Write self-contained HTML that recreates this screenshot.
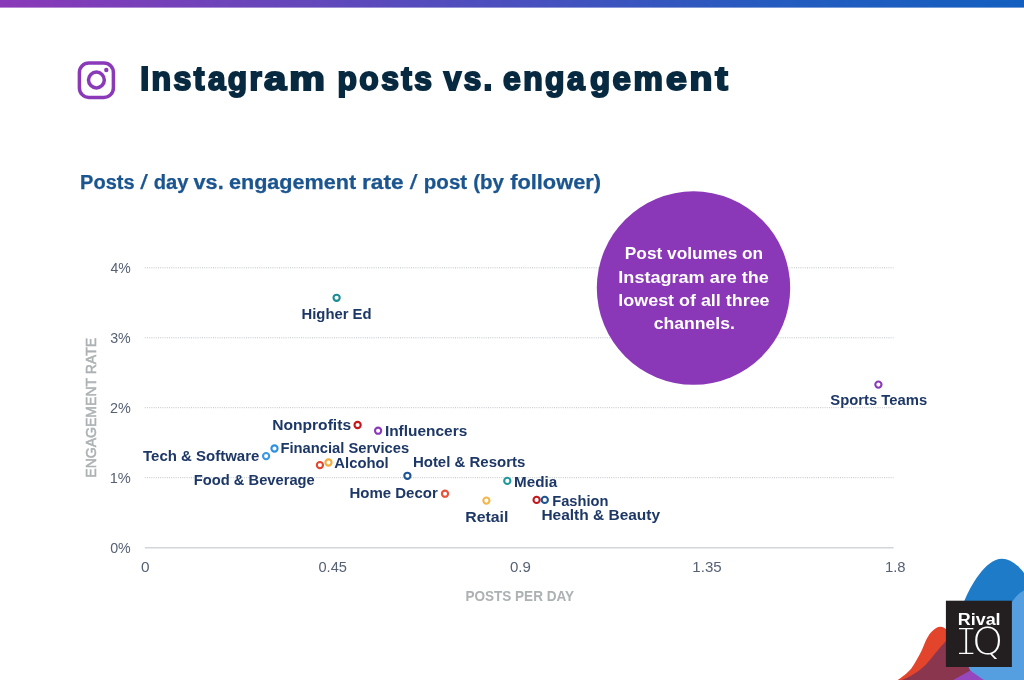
<!DOCTYPE html>
<html lang="en">
<head>
<meta charset="utf-8">
<title>Instagram posts vs. engagement</title>
<style>
html,body{margin:0;padding:0;background:#fff;}
body{width:1024px;height:680px;overflow:hidden;font-family:"Liberation Sans",sans-serif;}
svg{display:block;}
text{font-family:"Liberation Sans",sans-serif;}
.title{font-weight:700;fill:#082a41;stroke:#082a41;stroke-width:2.0px;}
.sub{font-weight:700;fill:#1b5590;stroke:#1b5590;stroke-width:0.25px;}
.lbl{font-weight:700;fill:#1d3766;}
.tick{fill:#566174;}
.axis{font-weight:700;fill:#acb1b3;}
.note{font-weight:700;fill:#ffffff;}
.pt{fill:#ffffff;stroke-width:2.1;}
</style>
</head>
<body>
<svg width="1024" height="680" viewBox="0 0 1024 680">
<defs>
<linearGradient id="topbar" x1="0" y1="0" x2="1" y2="0">
<stop offset="0" stop-color="#8a39b8"/>
<stop offset="0.25" stop-color="#6945ba"/>
<stop offset="0.5" stop-color="#4a4fbe"/>
<stop offset="0.75" stop-color="#255bbf"/>
<stop offset="1" stop-color="#135fbf"/>
</linearGradient>
</defs>
<rect x="0" y="0" width="1024" height="680" fill="#ffffff"/>
<rect x="0" y="0" width="1024" height="7.6" fill="url(#topbar)"/>
<g id="corner">
<path d="M975 675 L969 667.3 L962 620 L964.4 600.7 C970 587 985 559 1002 558.8 C1010 558.8 1018 565 1024 573 L1024 680 Z" fill="#1e7bc8"/>
<path d="M897.7 680 C905 675 909 671 911.3 668.4 C915 663 917 659 919.5 654.7 C922 650 923.5 646 925 642.4 C928 636 930 633 931.9 631.4 C935 628 938 626.5 940.7 626.7 C943 627 945 628 947 630 L947 680 Z" fill="#e3442c"/>
<path d="M950 680 L953.2 678 L970.3 668.4 L988 680 Z" fill="#9747bd"/>
<path d="M901.8 680 C910 677 917 673 925 665.6 C932 658 938 649 946 641 L970 641 L970 667 L970.3 670.4 L953.2 680 Z" fill="#89364e"/>
<path d="M1024 590.6 C1019 593 1014 598 1011 604 L1000 640 L968.5 667 L970.3 670.4 C973 672.5 979 676.5 984 680 L1024 680 Z" fill="#559fe0"/>
<rect x="945.9" y="600.7" width="66.0" height="66.3" fill="#231f20"/>
<text x="957.75" y="624.6" font-weight="700" font-size="16.0" fill="#ffffff" textLength="42.85" lengthAdjust="spacingAndGlyphs">Rival</text>
<text fill="#ffffff"><tspan x="954.0" y="654.85" font-size="43.1" stroke="#231f20" stroke-width="2.1" textLength="24.42" lengthAdjust="spacingAndGlyphs" style="font-family:'Liberation Mono',monospace">I</tspan><tspan x="972.05" y="653.9" font-size="36.8" font-weight="200" textLength="31.2" lengthAdjust="spacingAndGlyphs" style="font-family:'DejaVu Sans',sans-serif">Q</tspan></text>
</g>
<g id="ig" fill="none" stroke="#8a3ab9" stroke-width="3.5">
<rect x="79.4" y="63.0" width="34.0" height="34.4" rx="9.5" ry="9.5"/>
<circle cx="96.4" cy="80.0" r="7.9"/>
<circle cx="106.3" cy="70.0" r="2.2" fill="#8a3ab9" stroke="none"/>
</g>
<text class="title" y="89.5" font-size="33.0"><tspan x="140.25" letter-spacing="2.5" textLength="66.64" lengthAdjust="spacingAndGlyphs">Inst</tspan><tspan x="207.9" letter-spacing="2.5" textLength="56.31" lengthAdjust="spacingAndGlyphs">agr</tspan><tspan x="263.9" letter-spacing="2.5" textLength="64.0" lengthAdjust="spacingAndGlyphs">am</tspan> <tspan x="337.55" letter-spacing="2.5" textLength="96.75" lengthAdjust="spacingAndGlyphs">posts</tspan> <tspan x="443.75" letter-spacing="2.5" textLength="50.91" lengthAdjust="spacingAndGlyphs">vs.</tspan> <tspan x="503.05" letter-spacing="2.5" textLength="84.03" lengthAdjust="spacingAndGlyphs">enga</tspan><tspan x="589.95" letter-spacing="2.5" textLength="75.34" lengthAdjust="spacingAndGlyphs">gem</tspan><tspan x="665.95" letter-spacing="2.5" textLength="64.69" lengthAdjust="spacingAndGlyphs">ent</tspan></text>
<text class="sub" y="188.5" font-size="19.4"><tspan x="80.1" textLength="54.48" lengthAdjust="spacingAndGlyphs">Posts</tspan> <tspan x="140.15" font-weight="400" textLength="7.61" lengthAdjust="spacingAndGlyphs">/</tspan> <tspan x="153.75" textLength="34.77" lengthAdjust="spacingAndGlyphs">day</tspan> <tspan x="193.55" textLength="30.11" lengthAdjust="spacingAndGlyphs">vs.</tspan> <tspan x="228.95" textLength="127.26" lengthAdjust="spacingAndGlyphs">engagement</tspan> <tspan x="361.95" textLength="41.63" lengthAdjust="spacingAndGlyphs">rate</tspan> <tspan x="409.85" font-weight="400" textLength="7.67" lengthAdjust="spacingAndGlyphs">/</tspan> <tspan x="423.85" textLength="43.29" lengthAdjust="spacingAndGlyphs">post</tspan> <tspan x="473.2" textLength="30.73" lengthAdjust="spacingAndGlyphs">(by</tspan> <tspan x="510.15" textLength="90.92" lengthAdjust="spacingAndGlyphs">follower)</tspan></text>
<line x1="144.8" y1="267.8" x2="893.6" y2="267.8" stroke="#bfc3c7" stroke-width="1" stroke-dasharray="1 1.2"/>
<line x1="144.8" y1="337.8" x2="893.6" y2="337.8" stroke="#bfc3c7" stroke-width="1" stroke-dasharray="1 1.2"/>
<line x1="144.8" y1="407.7" x2="893.6" y2="407.7" stroke="#bfc3c7" stroke-width="1" stroke-dasharray="1 1.2"/>
<line x1="144.8" y1="477.7" x2="893.6" y2="477.7" stroke="#bfc3c7" stroke-width="1" stroke-dasharray="1 1.2"/>
<line x1="144.8" y1="547.8" x2="893.6" y2="547.8" stroke="#d3d5d7" stroke-width="1.5"/>
<text class="tick" x="110.45" y="273.4" font-size="15.0" textLength="20.32" lengthAdjust="spacingAndGlyphs">4%</text>
<text class="tick" x="110.2" y="343.4" font-size="15.0" textLength="20.59" lengthAdjust="spacingAndGlyphs">3%</text>
<text class="tick" x="109.95" y="413.4" font-size="15.0" textLength="20.87" lengthAdjust="spacingAndGlyphs">2%</text>
<text class="tick" x="109.7" y="483.4" font-size="15.0" textLength="21.16" lengthAdjust="spacingAndGlyphs">1%</text>
<text class="tick" x="110.2" y="553.4" font-size="15.0" textLength="20.59" lengthAdjust="spacingAndGlyphs">0%</text>
<text class="tick" x="141.1" y="572.0" font-size="15.0" textLength="8.54" lengthAdjust="spacingAndGlyphs">0</text>
<text class="tick" x="318.5" y="572.0" font-size="15.0" textLength="28.44" lengthAdjust="spacingAndGlyphs">0.45</text>
<text class="tick" x="509.9" y="572.0" font-size="15.0" textLength="20.87" lengthAdjust="spacingAndGlyphs">0.9</text>
<text class="tick" x="692.35" y="572.0" font-size="15.0" textLength="29.32" lengthAdjust="spacingAndGlyphs">1.35</text>
<text class="tick" x="884.95" y="572.0" font-size="15.0" textLength="20.6" lengthAdjust="spacingAndGlyphs">1.8</text>
<text class="axis" x="465.4" y="601.3" font-size="14.6" textLength="108.67" lengthAdjust="spacingAndGlyphs">POSTS PER DAY</text>
<text class="axis" style="font-weight:400;stroke:#acb1b3;stroke-width:0.55px" transform="translate(96.0 476.7) rotate(-90)" x="-1.0" y="0" font-size="14.3" textLength="139.81" lengthAdjust="spacingAndGlyphs">ENGAGEMENT RATE</text>
<circle cx="693.5" cy="288.05" r="96.7" fill="#8a38b8"/>
<text class="note" x="624.85" y="259.2" font-size="16.5" textLength="138.34" lengthAdjust="spacingAndGlyphs">Post volumes on</text>
<text class="note" x="618.35" y="282.8" font-size="16.5" textLength="150.57" lengthAdjust="spacingAndGlyphs">Instagram are the</text>
<text class="note" x="618.35" y="306.0" font-size="16.5" textLength="151.22" lengthAdjust="spacingAndGlyphs">lowest of all three</text>
<text class="note" x="653.75" y="329.3" font-size="16.5" textLength="81.15" lengthAdjust="spacingAndGlyphs">channels.</text>
<circle class="pt" cx="336.6" cy="297.8" r="3.1" stroke="#1b8b94"/>
<circle class="pt" cx="357.6" cy="425.0" r="3.1" stroke="#c4161c"/>
<circle class="pt" cx="378.1" cy="430.7" r="3.1" stroke="#8a3ab9"/>
<circle class="pt" cx="274.5" cy="448.5" r="3.1" stroke="#2f8fe0"/>
<circle class="pt" cx="266.1" cy="456.1" r="3.1" stroke="#3a97e6"/>
<circle class="pt" cx="319.9" cy="465.1" r="3.1" stroke="#e2472d"/>
<circle class="pt" cx="328.5" cy="462.5" r="3.1" stroke="#f3ad3a"/>
<circle class="pt" cx="407.4" cy="475.8" r="3.1" stroke="#1d5592"/>
<circle class="pt" cx="507.3" cy="480.9" r="3.1" stroke="#1f9a9c"/>
<circle class="pt" cx="445.0" cy="493.7" r="3.1" stroke="#e8513a"/>
<circle class="pt" cx="486.4" cy="500.6" r="3.1" stroke="#f4b64a"/>
<circle class="pt" cx="536.6" cy="499.9" r="3.1" stroke="#c4161c"/>
<circle class="pt" cx="544.8" cy="499.9" r="3.1" stroke="#1d5592"/>
<circle class="pt" cx="878.4" cy="384.6" r="3.1" stroke="#8a3ab9"/>
<text class="lbl" x="301.5" y="319.3" font-size="14.9" textLength="70.06" lengthAdjust="spacingAndGlyphs">Higher Ed</text>
<text class="lbl" x="272.2" y="430.3" font-size="14.9" textLength="78.89" lengthAdjust="spacingAndGlyphs">Nonprofits</text>
<text class="lbl" x="384.9" y="436.4" font-size="14.9" textLength="82.39" lengthAdjust="spacingAndGlyphs">Influencers</text>
<text class="lbl" x="280.4" y="453.4" font-size="14.9" textLength="128.87" lengthAdjust="spacingAndGlyphs">Financial Services</text>
<text class="lbl" x="143.05" y="461.2" font-size="14.9" textLength="116.31" lengthAdjust="spacingAndGlyphs">Tech &amp; Software</text>
<text class="lbl" x="193.8" y="485.2" font-size="14.9" textLength="120.97" lengthAdjust="spacingAndGlyphs">Food &amp; Beverage</text>
<text class="lbl" x="334.3" y="467.6" font-size="14.9" textLength="54.4" lengthAdjust="spacingAndGlyphs">Alcohol</text>
<text class="lbl" x="412.9" y="466.8" font-size="14.9" textLength="112.47" lengthAdjust="spacingAndGlyphs">Hotel &amp; Resorts</text>
<text class="lbl" x="514.0" y="486.8" font-size="14.9" textLength="43.12" lengthAdjust="spacingAndGlyphs">Media</text>
<text class="lbl" x="349.4" y="498.3" font-size="14.9" textLength="88.42" lengthAdjust="spacingAndGlyphs">Home Decor</text>
<text class="lbl" x="465.2" y="521.5" font-size="14.9" textLength="43.16" lengthAdjust="spacingAndGlyphs">Retail</text>
<text class="lbl" x="541.4" y="520.3" font-size="14.9" textLength="118.71" lengthAdjust="spacingAndGlyphs">Health &amp; Beauty</text>
<text class="lbl" x="552.2" y="505.8" font-size="14.9" textLength="56.27" lengthAdjust="spacingAndGlyphs">Fashion</text>
<text class="lbl" x="830.3" y="405.4" font-size="14.9" textLength="96.91" lengthAdjust="spacingAndGlyphs">Sports Teams</text>
</svg>
</body>
</html>
